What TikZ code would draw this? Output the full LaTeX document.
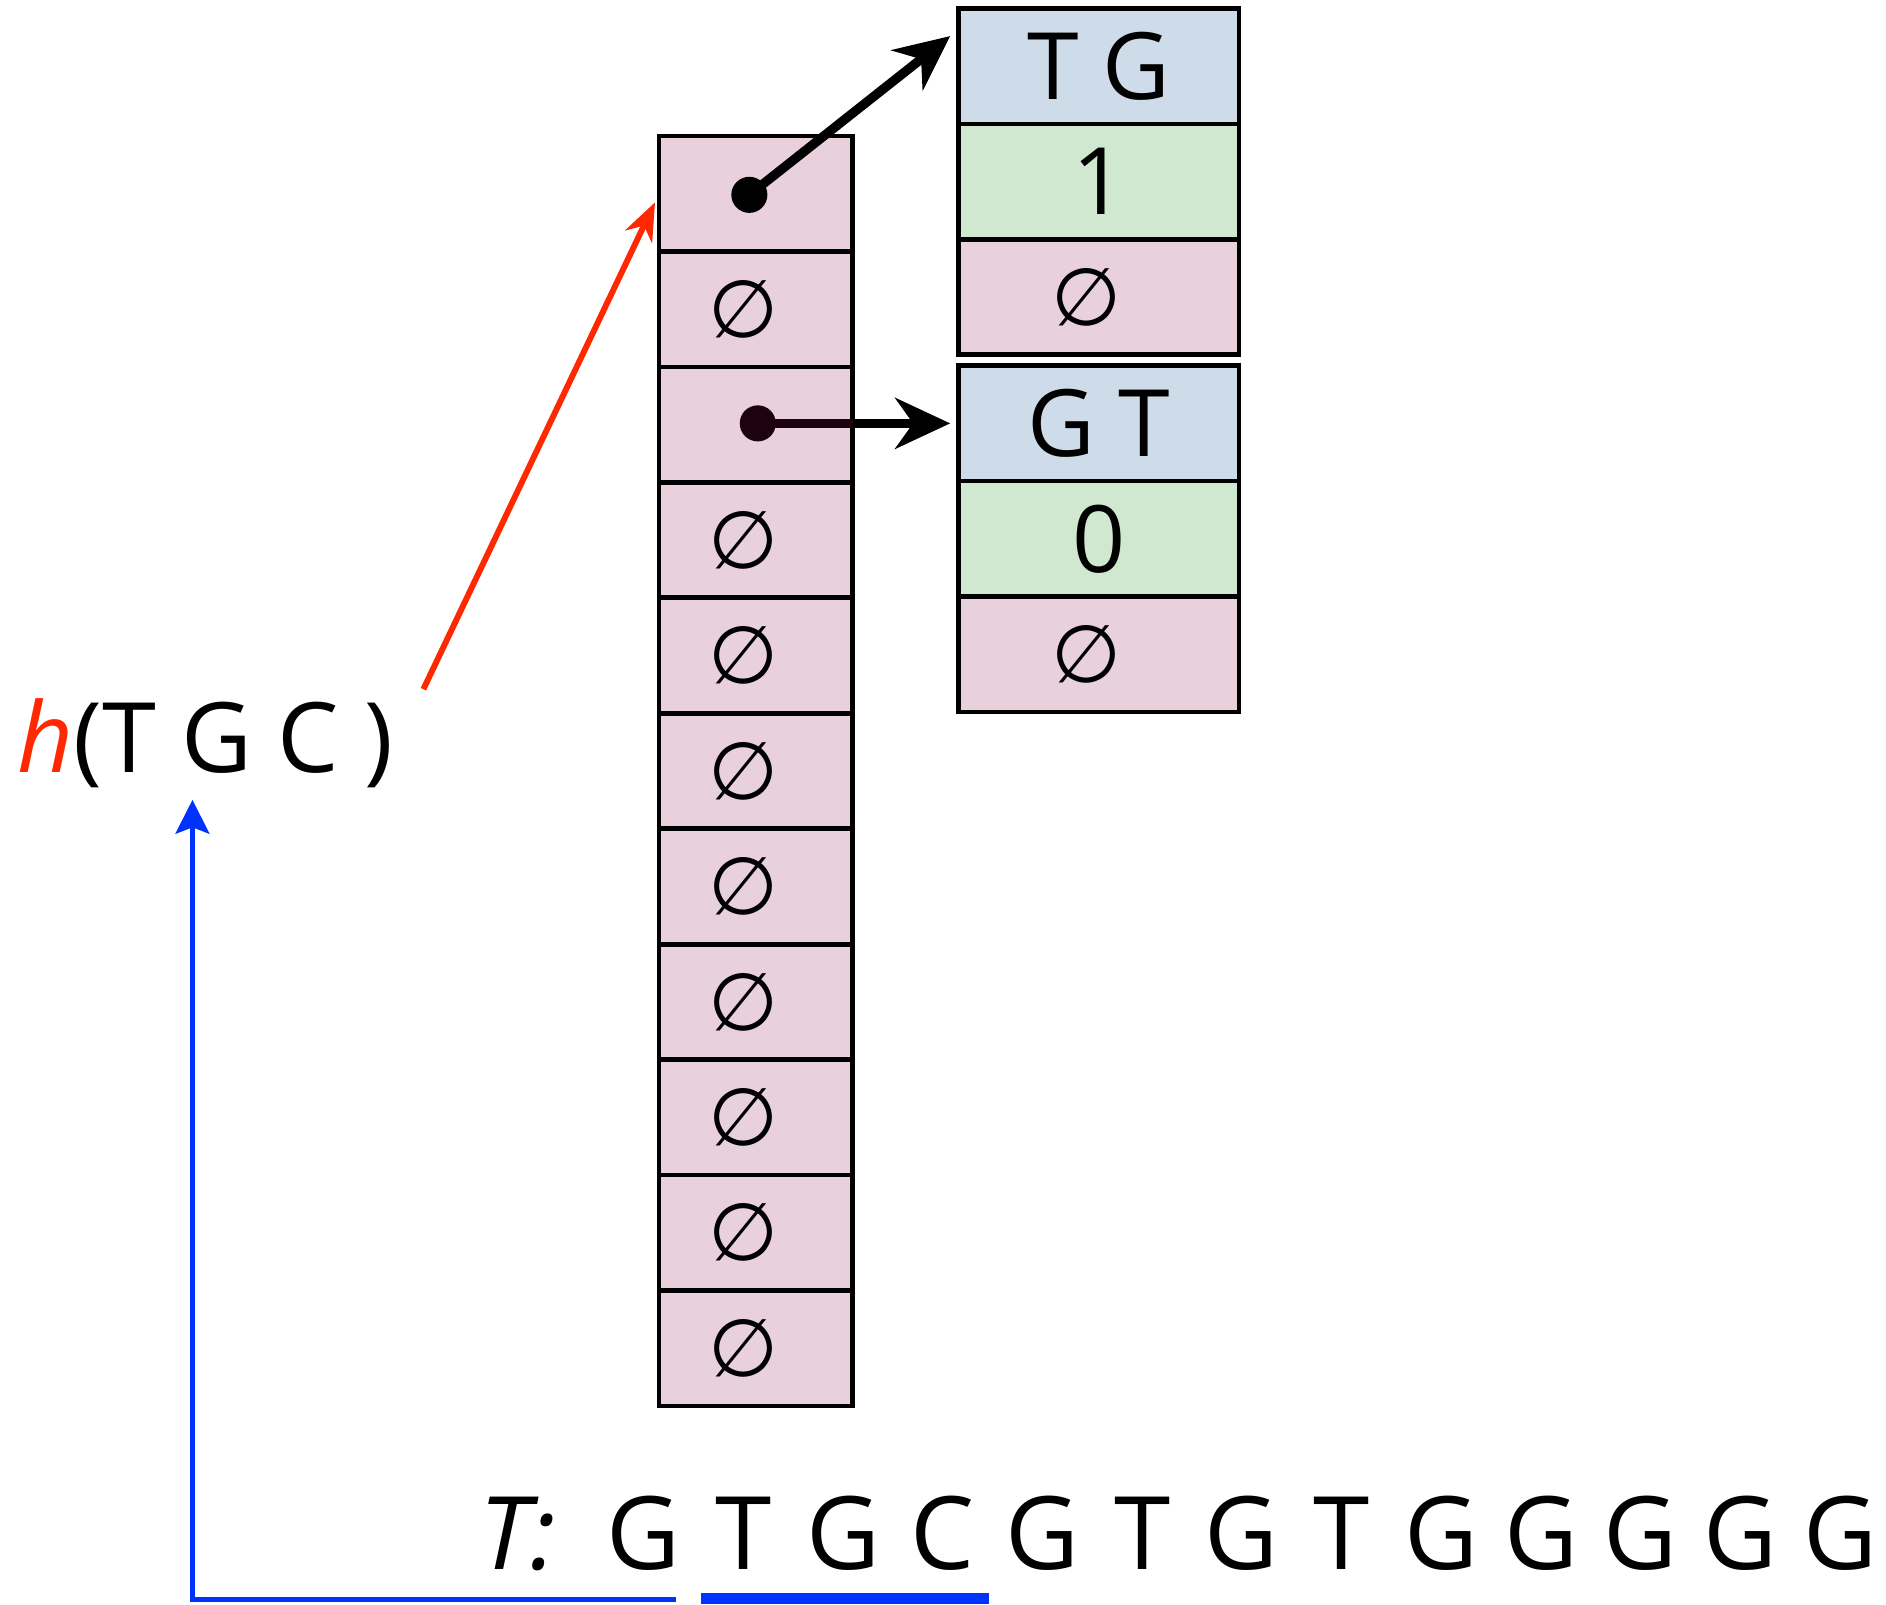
\documentclass[tikz,border=0pt]{standalone}
\usepackage{fontspec}
\setmainfont{Open Sans}
\newfontfamily\symfont{DejaVu Sans}
\usetikzlibrary{positioning,arrows.meta,calc}

\definecolor{slotpink}{RGB}{233,208,221}
\definecolor{keyblue}{RGB}{205,220,232}
\definecolor{countgreen}{RGB}{208,232,208}
\definecolor{hashred}{RGB}{255,40,0}
\definecolor{seqblue}{RGB}{0,50,255}
\definecolor{dotdark}{RGB}{30,2,16}

\newcommand{\emptyslot}{\symfont\fontsize{19}{21}\selectfont\hspace*{-0.2cm}∅}

\tikzset{
  slot/.style={draw, line width=1.1pt, fill=slotpink, minimum width=1.61cm,
    minimum height=0.96cm, inner sep=0pt, outer sep=0pt},
  entry/.style={draw, line width=1.1pt, minimum width=2.33cm, minimum height=0.96cm,
    inner sep=0pt, outer sep=0pt, font=\fontsize{22}{24}\selectfont},
  ptr/.style={-{Stealth[length=13pt,width=12pt]}, line width=2.2pt},
  base/.style={font=\fontsize{24}{28}\selectfont, inner sep=0.11cm},
}

\begin{document}
\begin{tikzpicture}
    \useasboundingbox (0,0) rectangle (15.68,13.34);

    % Hash table column
    \foreach \i/\t in {1/{},2/\emptyslot,3/{},4/\emptyslot,5/\emptyslot,6/\emptyslot,
                       7/\emptyslot,8/\emptyslot,9/\emptyslot,10/\emptyslot,11/\emptyslot}{
        \node[slot] (c\i) at (6.285, {11.73-0.96*(\i-1)}) {\t};
    }

    % Entries
    \node[entry, fill=keyblue] (tg) at (9.135,12.79) {T G};
    \node[entry, fill=countgreen, below=0pt of tg] (one) {1};
    \node[entry, fill=slotpink, below=0pt of one] (nil1) {\emptyslot};

    \node[entry, fill=keyblue] (gt) at (9.135,9.82) {G T};
    \node[entry, fill=countgreen, below=0pt of gt] (zero) {0};
    \node[entry, fill=slotpink, below=0pt of zero] (nil2) {\emptyslot};

    % Pointers
    \coordinate (p1) at (6.23,11.72);
    \coordinate (t1) at ($(tg.west)+(-0.07,0.25)$);
    \draw[ptr] (p1) -- (t1);
    \fill (p1) circle (0.15);

    \coordinate (p2) at (6.30,9.82);
    \draw[ptr, shorten >=0.07cm] (p2) -- (gt.west);
    \draw[dotdark, line width=2.2pt] (p2) -- (c3.east|-p2);
    \fill[dotdark] (p2) circle (0.15);

    % Hash function
    \node[anchor=base west, inner sep=0pt, font=\fontsize{23}{26}\selectfont] (hfun) at (0.14,6.92)
        {\textcolor{hashred}{\itshape h}(T G C )};
    \coordinate (hout) at (3.52,7.61);
    \draw[hashred, line width=1.4pt, -{Stealth[length=9pt,width=7pt]}, shorten >=0.08cm] (hout) -- (c1.west);

    % Text
    \node[base, anchor=base west, inner sep=0pt, font=\fontsize{24}{28}\selectfont\itshape] (tlabel) at (3.98,0.29) {T:};
    \foreach \b [count=\i] in {G,T,G,C,G,T,G,T,G,G,G,G,G}{
        \node[base, anchor=base] (s\i) at ({5.35+0.829*(\i-1)},0.29) {\b};
    }

    % Underline and link back
    \coordinate (ul) at (0,0.05);
    \draw[seqblue, line width=2.5pt] (s2.west|-ul) -- (s4.east|-ul);
    \coordinate (bstart) at (5.62,0.04);
    \coordinate (hin) at (1.60,6.69);
    \draw[seqblue, line width=1.1pt, -{Stealth[length=8pt,width=8pt,inset=1.5pt]}] (bstart) -| (hin);

\end{tikzpicture}
\end{document}
